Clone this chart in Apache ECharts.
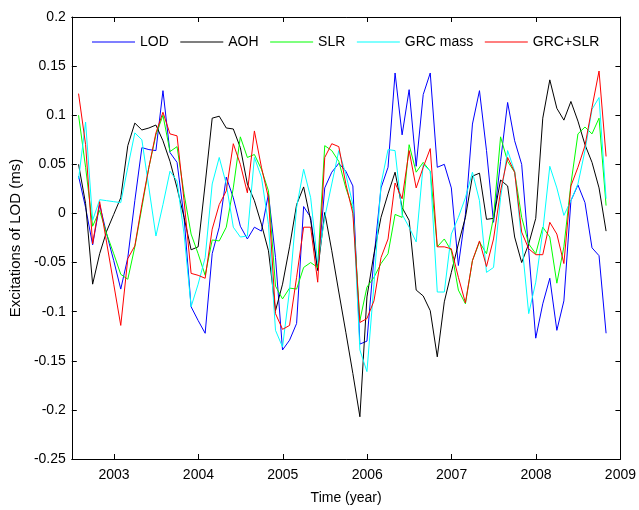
<!DOCTYPE html>
<html>
<head>
<meta charset="utf-8">
<script src="https://cdn.jsdelivr.net/npm/echarts@6/dist/echarts.min.js"></script>
<style>
  html, body { margin: 0; padding: 0; background: #fff; }
  #chart { width: 639px; height: 510px; }
</style>
</head>
<body>
<div id="chart"></div>
<script>
// monthly samples, first one is Aug 2002
const firstMonth = 2002.58

const lod = [
  0.038, 0.006, -0.032, 0.009, -0.021, -0.048, -0.077, -0.045, 0.013, 0.067, 0.065, 0.064,
  0.125, 0.062, 0.052, -0.004, -0.095, -0.109, -0.122, -0.041, -0.014, 0.037, 0.016, -0.013,
  -0.026, -0.014, -0.018, 0.02, -0.045, -0.139, -0.129, -0.112, 0.007, -0.004, -0.058, 0.026,
  0.042, 0.051, 0.043, 0.028, -0.133, -0.13, -0.045, 0.026, 0.047, 0.143, 0.08, 0.126,
  0.048, 0.121, 0.143, 0.047, 0.05, 0.026, -0.053, -0.001, 0.091, 0.125, 0.064, -0.009,
  0.053, 0.113, 0.074, 0.05, -0.038, -0.127, -0.092, -0.066, -0.119, -0.089, 0.013, 0.029,
  0.011, -0.035, -0.043, -0.122
]
const aoh = [
  0.05, 0.01, -0.072, -0.041, -0.018, -0.001, 0.016, 0.069, 0.092, 0.085, 0.087, 0.09,
  0.074, 0.053, 0.026, -0.004, -0.037, -0.034, 0.03, 0.097, 0.099, 0.087, 0.086, 0.067,
  0.03, 0.013, -0.011, -0.038, -0.099, -0.072, -0.034, 0.009, 0.027, -0.007, -0.058, 0.001,
  -0.038, -0.08, -0.121, -0.163, -0.207, -0.085, -0.041, -0.004, 0.02, 0.042, 0.006, -0.007,
  -0.078, -0.084, -0.099, -0.146, -0.09, -0.06, -0.031, -0.004, 0.038, 0.041, -0.006, -0.005,
  0.034, 0.028, -0.024, -0.05, -0.031, -0.005, 0.097, 0.136, 0.107, 0.095, 0.114, 0.094,
  0.07, 0.052, 0.026, -0.018
]
const slr = [
  0.1, 0.047, -0.013, 0.003, -0.021, -0.041, -0.062, -0.067, -0.034, 0.006, 0.047, 0.08,
  0.1, 0.063, 0.068, 0.02, -0.021, -0.041, -0.063, -0.027, -0.028, -0.014, 0.026, 0.078,
  0.057, 0.06, 0.045, 0.023, -0.074, -0.087, -0.076, -0.077, -0.055, -0.05, -0.055, 0.069,
  0.064, 0.053, 0.026, 0.005, -0.109, -0.075, -0.065, -0.051, -0.041, -0.001, -0.004, 0.07,
  0.042, 0.052, 0.043, -0.034, -0.026, -0.038, -0.078, -0.092, -0.048, -0.029, -0.041, -0.004,
  0.078, 0.053, 0.042, -0.004, -0.031, -0.041, -0.014, -0.024, -0.071, -0.034, 0.03, 0.081,
  0.088, 0.081, 0.097, 0.008
]
const grcMass = [
  0.035, 0.093, -0.007, 0.014, 0.013, 0.012, 0.011, 0.047, 0.082, 0.075, 0.026, -0.023,
  0.009, 0.043, 0.033, -0.021, -0.095, -0.072, -0.045, 0.03, 0.057, 0.03, -0.014, -0.024,
  -0.023, 0.057, 0.037, -0.011, -0.119, -0.136, -0.078, 0.006, 0.045, 0.016, -0.051, -0.004,
  0.03, 0.064, 0.04, 0.009, -0.139, -0.161, -0.072, 0.03, 0.065, 0.064, -0.001, -0.014,
  -0.029, 0.05, 0.043, -0.08, -0.08, -0.021, -0.004, 0.016, 0.042, 0.013, -0.06, -0.055,
  0.016, 0.064, 0.043, -0.028, -0.102, -0.07, -0.018, 0.048, 0.026, -0.002, 0.013, 0.03,
  0.064, 0.106, 0.118, 0.015
]
const grcSlr = [
  0.122, 0.07, -0.031, 0.012, -0.03, -0.072, -0.114, -0.046, -0.033, 0.009, 0.047, 0.082,
  0.103, 0.081, 0.079, 0.013, -0.061, -0.063, -0.066, -0.016, 0.009, 0.023, 0.071, 0.05,
  0.021, 0.084, 0.047, 0.016, -0.102, -0.118, -0.114, -0.065, -0.014, -0.014, -0.07, 0.057,
  0.071, 0.068, 0.03, 0.0, -0.111, -0.107, -0.089, -0.045, -0.026, 0.031, 0.015, 0.064,
  0.026, 0.047, 0.066, -0.034, -0.034, -0.036, -0.065, -0.091, -0.048, -0.028, -0.054, -0.026,
  0.023, 0.057, 0.042, -0.019, -0.036, -0.042, -0.042, -0.009, -0.021, -0.051, 0.028, 0.047,
  0.069, 0.108, 0.145, 0.058
]

const seriesNames = ['LOD', 'AOH', 'SLR', 'GRC mass', 'GRC+SLR']
const seriesColors = ['#0000ff', '#000000', '#00ff00', '#00ffff', '#ff0000']
const seriesValues = [lod, aoh, slr, grcMass, grcSlr]

const font = 'Liberation Sans, Arial, sans-serif'
const toPoints = vals => vals.map((v, i) => [firstMonth + i / 12, v])

const chart = echarts.init(document.getElementById('chart'))

const boxAxis = {
  axisLine: { show: true, onZero: false, lineStyle: { color: '#000', width: 1 } },
  axisTick: { show: true, inside: true, length: 5, lineStyle: { color: '#000' } },
  splitLine: { show: false },
}

chart.setOption({
  animation: false,
  backgroundColor: '#fff',
  grid: { left: 69, right: 17, top: 17, bottom: 46, containLabel: false },
  legend: {
    left: 92,
    top: 35,
    padding: 0,
    icon: 'rect',
    itemWidth: 43,
    itemHeight: 1,
    itemGap: 11.5,
    textStyle: { fontFamily: font, fontSize: 14, color: '#000' },
    data: seriesNames,
  },
  xAxis: [
    {
      type: 'value',
      min: 2002.5,
      max: 2009,
      ...boxAxis,
      axisLabel: {
        fontFamily: font,
        fontSize: 14,
        color: '#000',
        margin: 9,
        formatter: v => (Number.isInteger(v) ? String(v) : ''),
      },
      name: 'Time (year)',
      nameLocation: 'middle',
      nameGap: 32,
      nameTextStyle: { fontFamily: font, fontSize: 14, color: '#000' },
    },
    {
      type: 'value',
      position: 'top',
      min: 2002.5,
      max: 2009,
      ...boxAxis,
      axisLabel: { show: false },
    },
  ],
  yAxis: [
    {
      type: 'value',
      min: -0.25,
      max: 0.2,
      interval: 0.05,
      ...boxAxis,
      axisLabel: { fontFamily: font, fontSize: 14, color: '#000', margin: 6 },
      name: 'Excitations of LOD (ms)',
      nameLocation: 'middle',
      nameGap: 46,
      nameTextStyle: { fontFamily: font, fontSize: 15, color: '#000' },
    },
    {
      type: 'value',
      position: 'right',
      min: -0.25,
      max: 0.2,
      interval: 0.05,
      ...boxAxis,
      axisLabel: { show: false },
    },
  ],
  series: seriesNames.map((name, k) => ({
    name,
    type: 'line',
    data: toPoints(seriesValues[k]),
    symbol: 'none',
    color: seriesColors[k],
    lineStyle: { width: 1, color: seriesColors[k] },
  })),
})
</script>
</body>
</html>
